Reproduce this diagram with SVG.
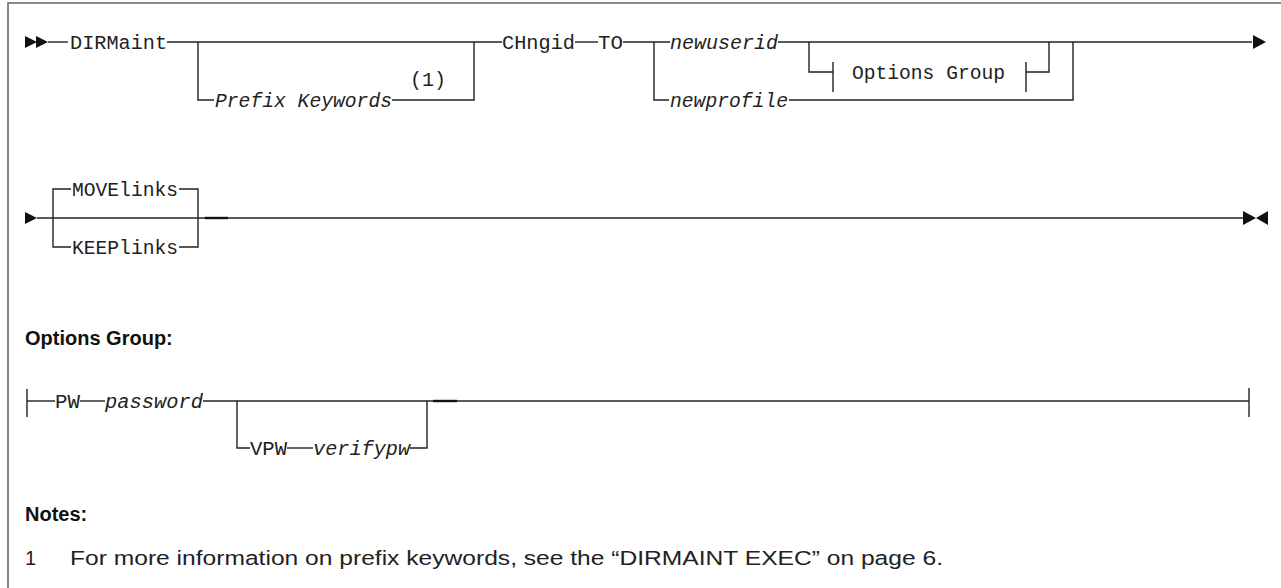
<svg xmlns="http://www.w3.org/2000/svg" width="1281" height="588" viewBox="0 0 1281 588">
<style>
.ln{fill:none;stroke:#222;stroke-width:1.4}
.thk{fill:none;stroke:#111;stroke-width:2.4}
.fr{fill:none;stroke:#666;stroke-width:1.6}
.ah{fill:#111}
.m{font-family:"Liberation Mono",monospace;font-size:20px;fill:#222}
.mi{font-family:"Liberation Mono",monospace;font-size:20px;font-style:italic;fill:#222}
.h{font-family:"Liberation Sans",Arial,sans-serif;font-size:20px;font-weight:bold;fill:#111}
.n{font-family:"Liberation Sans",Arial,sans-serif;font-size:20px;fill:#222}
</style>
<rect width="1281" height="588" fill="#fff"/>
<path class="fr" d="M8,588 V3 H1281"/>
<g id="connectors">
<polygon class="ah" points="25,36 37,42 25,48"/>
<polygon class="ah" points="36,36 48,42 36,48"/>
<path class="ln" d="M48,42 H68"/>
<path class="ln" d="M167,42 H502"/>
<path class="ln" d="M198,42 V100 H214"/>
<path class="ln" d="M392,100 H474 V42"/>
<path class="ln" d="M575,42 H598"/>
<path class="ln" d="M623,42 H670"/>
<path class="ln" d="M654,42 V100 H669"/>
<path class="ln" d="M778,42 H1252"/>
<path class="ln" d="M809,42 V72 H833"/>
<path class="ln" d="M833,62 V92"/>
<path class="ln" d="M1026,62 V92"/>
<path class="ln" d="M1026,72 H1049 V42"/>
<path class="ln" d="M789,100 H1073 V42"/>
<polygon class="ah" points="1253,35 1266,42 1253,49"/>
<polygon class="ah" points="25,212 37,218 25,224"/>
<path class="ln" d="M37,218 H1244"/>
<path class="ln" d="M53,218 V189 H71"/>
<path class="ln" d="M53,218 V247 H71"/>
<path class="ln" d="M179,189 H198 V247 H179"/>
<path class="thk" d="M205,218 H228"/>
<polygon class="ah" points="1243,211 1256,218 1243,225"/>
<polygon class="ah" points="1268,211 1256,218 1268,225"/>
<path class="ln" d="M27,389 V417"/>
<path class="ln" d="M27,401 H55"/>
<path class="ln" d="M80,401 H105"/>
<path class="ln" d="M203,401 H1249"/>
<path class="ln" d="M237,401 V448 H250"/>
<path class="ln" d="M287,448 H313"/>
<path class="ln" d="M410,448 H427 V401"/>
<path class="thk" d="M433,401 H457"/>
<path class="ln" d="M1249,388 V417"/>
</g>
<g id="n-dirmaint"><text class="m" x="70" y="49" textLength="97" lengthAdjust="spacingAndGlyphs">DIRMaint</text></g>
<g id="n-prefix"><text class="mi" x="215" y="107" textLength="177" lengthAdjust="spacingAndGlyphs">Prefix Keywords</text>
<text class="m" x="410" y="86">(1)</text></g>
<g id="n-chngid"><text class="m" x="502" y="49" textLength="73" lengthAdjust="spacingAndGlyphs">CHngid</text></g>
<g id="n-to"><text class="m" x="598" y="49" textLength="25" lengthAdjust="spacingAndGlyphs">TO</text></g>
<g id="n-newuserid"><text class="mi" x="670" y="49" textLength="108" lengthAdjust="spacingAndGlyphs">newuserid</text></g>
<g id="n-newprofile"><text class="mi" x="670" y="107" textLength="118" lengthAdjust="spacingAndGlyphs">newprofile</text></g>
<g id="n-optgroup-ref"><text class="m" x="852" y="79" textLength="153" lengthAdjust="spacingAndGlyphs">Options Group</text></g>
<g id="n-movelinks"><text class="m" x="72" y="196" textLength="106" lengthAdjust="spacingAndGlyphs">MOVElinks</text></g>
<g id="n-keeplinks"><text class="m" x="72" y="254" textLength="106" lengthAdjust="spacingAndGlyphs">KEEPlinks</text></g>
<g id="h-options"><text class="h" x="25" y="345">Options Group:</text></g>
<g id="n-pw"><text class="m" x="55" y="408" textLength="25" lengthAdjust="spacingAndGlyphs">PW</text></g>
<g id="n-password"><text class="mi" x="105" y="408" textLength="98" lengthAdjust="spacingAndGlyphs">password</text></g>
<g id="n-vpw"><text class="m" x="250" y="455" textLength="37" lengthAdjust="spacingAndGlyphs">VPW</text></g>
<g id="n-verifypw"><text class="mi" x="313" y="455" textLength="97" lengthAdjust="spacingAndGlyphs">verifypw</text></g>
<g id="notes">
<text class="h" x="25" y="521">Notes:</text>
<text class="n" x="25" y="565">1</text>
<text class="n" x="70" y="565" textLength="873" lengthAdjust="spacingAndGlyphs">For more information on prefix keywords, see the “DIRMAINT EXEC” on page 6.</text>
</g>
</svg>
